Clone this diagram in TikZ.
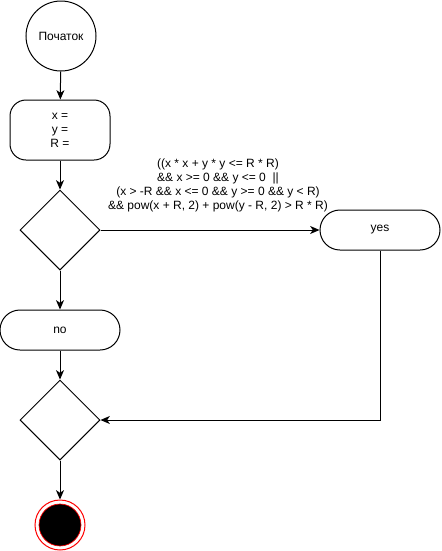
\documentclass[tikz,border=0pt]{standalone}
\usepackage{fontspec}
\setmainfont{Liberation Sans}
\usetikzlibrary{shapes.geometric,arrows.meta}

\begin{document}
\begin{tikzpicture}[
  x=0.75pt, y=-0.75pt,
  every node/.style = {font=\fontsize{9pt}{10.5pt}\selectfont, line width=0.75pt},
  terminal/.style = {circle, draw, minimum size=52.5pt, inner sep=0pt},
  process/.style = {rectangle, draw, rounded corners=12pt, minimum width=75pt, minimum height=45pt, align=center},
  result/.style = {rectangle, draw, rounded corners=15pt, minimum width=90pt, minimum height=30pt},
  decision/.style = {diamond, draw, minimum width=60pt, minimum height=60pt, inner sep=0pt},
  final/.style = {circle, draw=red, minimum size=37.5pt, inner sep=0pt,
    path picture={\fill[black, draw=red, line width=0.5pt] (path picture bounding box.center) circle (15.75pt);}},
  flow/.style = {line width=0.75pt, draw, -{Stealth[length=7pt, width=6pt, inset=2pt]}}
]
  \useasboundingbox (0,0) rectangle (442,551);

  \node[terminal] (start) at (61,36) {Початок};
  \node[process] (input) at (60,130) {x =\\y =\\R =};
  \node[decision] (cond1) at (60,230) {};
  \node[result] (yes) at (380,230) {yes};
  \node[result] (no) at (60,330) {no};
  \node[decision] (cond2) at (60,420) {};
  \node[final] (end) at (60,525) {};

  \node[align=center] (cond) at (218,185)
    {((x * x + y * y <= R * R)\\
     \&\& x >= 0 \&\& y <= 0 \ ||\\
     (x > -R \&\& x <= 0 \&\& y >= 0 \&\& y < R)\\
     \&\& pow(x + R, 2) + pow(y - R, 2) > R * R)};

  \draw[flow] (start) -- (input);
  \draw[flow] (input) -- (cond1);
  \draw[flow] (cond1) -- (yes);
  \draw[flow] (cond1) -- (no);
  \draw[flow] (no) -- (cond2);
  \draw[flow] (yes.south) |- (cond2.east);
  \draw[flow] (cond2) -- (end);
\end{tikzpicture}
\end{document}
